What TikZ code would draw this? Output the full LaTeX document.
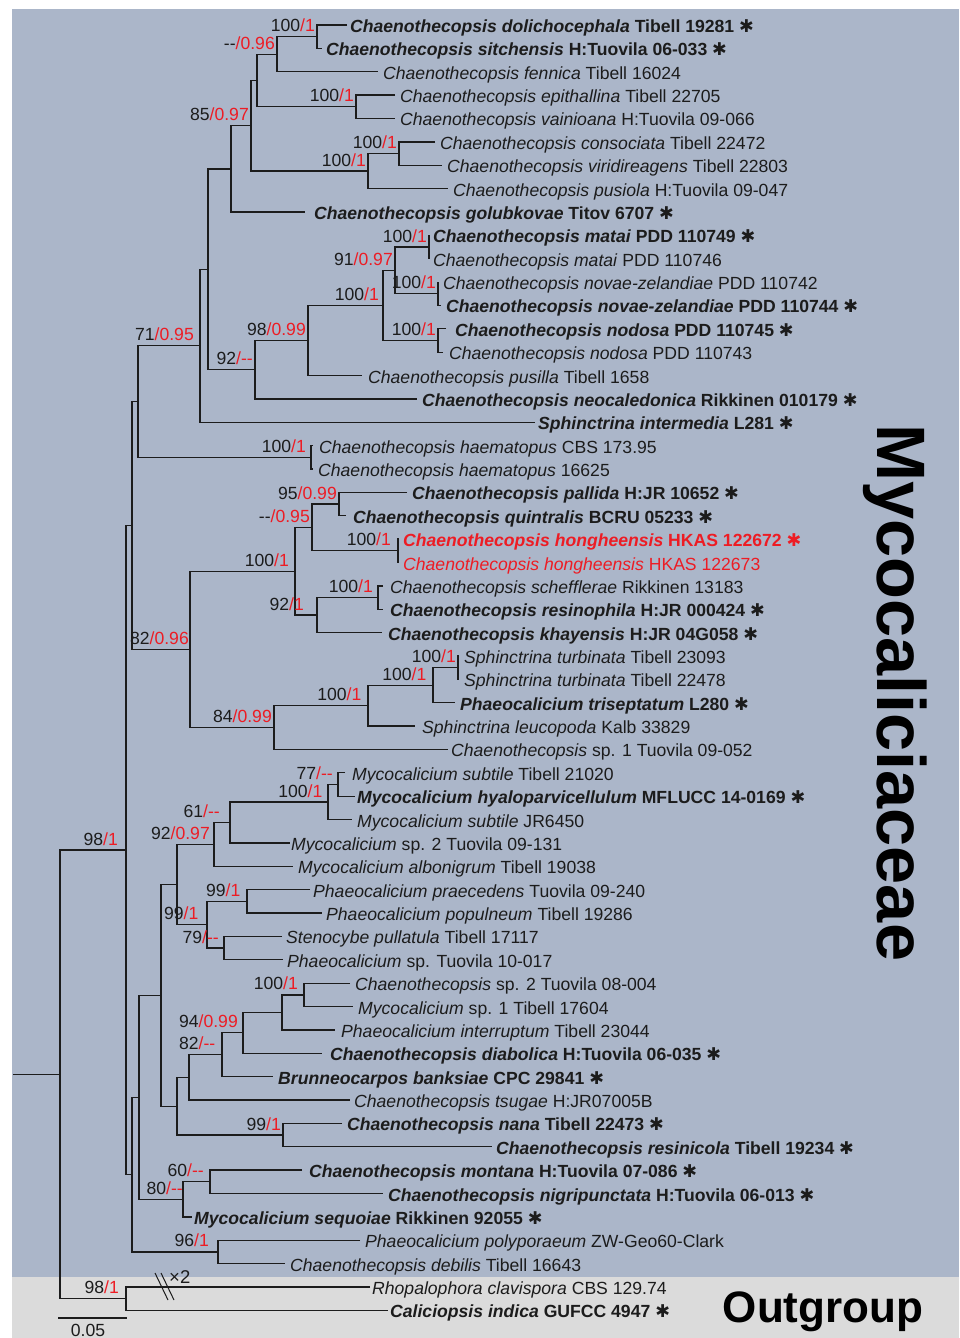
\documentclass[tikz,border=0pt]{standalone}
\usepackage{fontspec}
\setmainfont{Liberation Sans}
\newfontfamily\symfont{DejaVu Sans}
\usetikzlibrary{calc}
\definecolor{bgblue}{RGB}{171,182,201}
\definecolor{bggray}{RGB}{219,219,219}
\definecolor{myred}{RGB}{237,28,36}
\definecolor{ink}{RGB}{28,28,28}
\newcommand\stx{\space{\symfont ✱}}
\newcommand\tx[2]{\textit{#1} #2}
\newcommand\tb[2]{\textbf{\textit{#1} #2}\stx}
\tikzset{
  br/.style={draw=ink, line width=1.3pt},
  leaflab/.style={anchor=base west, inner sep=0pt, yshift=-7.5pt, text=ink, font=\fontsize{17.6}{21}\selectfont},
  suplab/.style={anchor=base east, inner sep=0pt, xshift=-2pt, yshift=5pt, text=ink, font=\fontsize{17.6}{21}\selectfont}
}
\newcommand\leaf[4]{%
  \coordinate (l#1) at (#2, {25+(#1-1)*23.37});
  \node[leaflab] (t#1) at (#3, {25+(#1-1)*23.37}) {#4};
}
\newcommand\inode[4]{%
  \path let \p1=(#3), \p2=(#4) in coordinate (#1) at (#2pt, {0.5*(\y1)+0.5*(\y2)});
  \draw[br] (#3) -| (#1) |- (#4);
}
\newcommand\slab[4][0]{%
  \node[suplab, xshift=-#1pt] (s#2) at (#2) {#3\textcolor{myred}{/#4}};
}
\begin{document}
\begin{tikzpicture}[x=1pt, y=-1pt]
\useasboundingbox (0,0) rectangle (959,1338);
\clip (0,0) rectangle (959,1338);
\fill[bgblue] (12,9) rectangle (959,1277);
\fill[bggray] (12,1277) rectangle (959,1338);

% leaves
\leaf{1}{347}{350}{\tb{Chaenothecopsis dolichocephala}{Tibell 19281}}
\leaf{2}{322}{326}{\tb{Chaenothecopsis sitchensis}{H:Tuovila 06-033}}
\leaf{3}{378}{383}{\tx{Chaenothecopsis fennica}{Tibell 16024}}
\leaf{4}{395}{400}{\tx{Chaenothecopsis epithallina}{Tibell 22705}}
\leaf{5}{395}{400}{\tx{Chaenothecopsis vainioana}{H:Tuovila 09-066}}
\leaf{6}{435}{440}{\tx{Chaenothecopsis consociata}{Tibell 22472}}
\leaf{7}{442}{447}{\tx{Chaenothecopsis viridireagens}{Tibell 22803}}
\leaf{8}{448}{453}{\tx{Chaenothecopsis pusiola}{H:Tuovila 09-047}}
\leaf{9}{305}{314}{\tb{Chaenothecopsis golubkovae}{Titov 6707}}
\leaf{10}{429}{433}{\tb{Chaenothecopsis matai}{PDD 110749}}
\leaf{11}{429}{433}{\tx{Chaenothecopsis matai}{PDD 110746}}
\leaf{12}{438}{443}{\tx{Chaenothecopsis novae-zelandiae}{PDD 110742}}
\leaf{13}{441}{446}{\tb{Chaenothecopsis novae-zelandiae}{PDD 110744}}
\leaf{14}{446}{455}{\tb{Chaenothecopsis nodosa}{PDD 110745}}
\leaf{15}{443}{449}{\tx{Chaenothecopsis nodosa}{PDD 110743}}
\leaf{16}{362}{368}{\tx{Chaenothecopsis pusilla}{Tibell 1658}}
\leaf{17}{417}{422}{\tb{Chaenothecopsis neocaledonica}{Rikkinen 010179}}
\leaf{18}{535}{538}{\tb{Sphinctrina intermedia}{L281}}
\leaf{19}{313}{319}{\tx{Chaenothecopsis haematopus}{CBS 173.95}}
\leaf{20}{313}{318}{\tx{Chaenothecopsis haematopus}{16625}}
\leaf{21}{407}{412}{\tb{Chaenothecopsis pallida}{H:JR 10652}}
\leaf{22}{346}{353}{\tb{Chaenothecopsis quintralis}{BCRU 05233}}
\leaf{23}{399}{403}{{\color{myred}\textbf{\textit{Chaenothecopsis hongheensis} HKAS 122672}\stx}}
\leaf{24}{399}{403}{{\color{myred}\textit{Chaenothecopsis hongheensis} HKAS 122673}}
\leaf{25}{383}{390}{\tx{Chaenothecopsis schefflerae}{Rikkinen 13183}}
\leaf{26}{383}{390}{\tb{Chaenothecopsis resinophila}{H:JR 000424}}
\leaf{27}{382}{388}{\tb{Chaenothecopsis khayensis}{H:JR 04G058}}
\leaf{28}{459}{464}{\tx{Sphinctrina turbinata}{Tibell 23093}}
\leaf{29}{459}{464}{\tx{Sphinctrina turbinata}{Tibell 22478}}
\leaf{30}{455}{460}{\tb{Phaeocalicium triseptatum}{L280}}
\leaf{31}{415}{422}{\tx{Sphinctrina leucopoda}{Kalb 33829}}
\leaf{32}{448}{451}{\tx{Chaenothecopsis}{sp. 1 Tuovila 09-052}}
\leaf{33}{345}{352}{\tx{Mycocalicium subtile}{Tibell 21020}}
\leaf{34}{355}{357}{\tb{Mycocalicium hyaloparvicellulum}{MFLUCC 14-0169}}
\leaf{35}{352}{357}{\tx{Mycocalicium subtile}{JR6450}}
\leaf{36}{290}{291}{\tx{Mycocalicium}{sp. 2 Tuovila 09-131}}
\leaf{37}{293}{298}{\tx{Mycocalicium albonigrum}{Tibell 19038}}
\leaf{38}{310}{313}{\tx{Phaeocalicium praecedens}{Tuovila 09-240}}
\leaf{39}{322}{326}{\tx{Phaeocalicium populneum}{Tibell 19286}}
\leaf{40}{282}{286}{\tx{Stenocybe pullatula}{Tibell 17117}}
\leaf{41}{283}{287}{\tx{Phaeocalicium}{sp. Tuovila 10-017}}
\leaf{42}{350}{355}{\tx{Chaenothecopsis}{sp. 2 Tuovila 08-004}}
\leaf{43}{353}{358}{\tx{Mycocalicium}{sp. 1 Tibell 17604}}
\leaf{44}{335}{341}{\tx{Phaeocalicium interruptum}{Tibell 23044}}
\leaf{45}{322}{330}{\tb{Chaenothecopsis diabolica}{H:Tuovila 06-035}}
\leaf{46}{273}{278}{\tb{Brunneocarpos banksiae}{CPC 29841}}
\leaf{47}{350}{354}{\tx{Chaenothecopsis tsugae}{H:JR07005B}}
\leaf{48}{342}{347}{\tb{Chaenothecopsis nana}{Tibell 22473}}
\leaf{49}{492}{496}{\tb{Chaenothecopsis resinicola}{Tibell 19234}}
\leaf{50}{302}{309}{\tb{Chaenothecopsis montana}{H:Tuovila 07-086}}
\leaf{51}{383}{388}{\tb{Chaenothecopsis nigripunctata}{H:Tuovila 06-013}}
\leaf{52}{192}{194}{\tb{Mycocalicium sequoiae}{Rikkinen 92055}}
\leaf{53}{360}{365}{\tx{Phaeocalicium polyporaeum}{ZW-Geo60-Clark}}
\leaf{54}{285}{290}{\tx{Chaenothecopsis debilis}{Tibell 16643}}
\leaf{55}{370}{372}{\tx{Rhopalophora clavispora}{CBS 129.74}}
\leaf{56}{388}{390}{\tb{Caliciopsis indica}{GUFCC 4947}}

% internal nodes
\inode{A}{317}{l1}{l2}
\inode{B}{277}{A}{l3}
\inode{D}{356}{l4}{l5}
\inode{C}{257}{B}{D}
\inode{G}{399}{l6}{l7}
\inode{F}{368}{G}{l8}
\inode{E}{251}{C}{F}
\inode{H}{231}{E}{l9}
\inode{Q}{429}{l10}{l11}
\inode{R}{438}{l12}{l13}
\inode{O}{395}{Q}{R}
\inode{P}{438}{l14}{l15}
\inode{N}{383}{O}{P}
\inode{M}{308}{N}{l16}
\inode{L}{255}{M}{l17}
\inode{I}{208}{H}{L}
\inode{K}{200}{I}{l18}
\inode{T}{311}{l19}{l20}
\inode{S}{138}{K}{T}
\inode{AS}{339}{l21}{l22}
\inode{AT}{398}{l23}{l24}
\inode{AU}{312}{AS}{AT}
\inode{AV}{378}{l25}{l26}
\inode{AW}{317}{AV}{l27}
\inode{AX}{295}{AU}{AW}
\inode{AY}{458}{l28}{l29}
\inode{AZ}{433}{AY}{l30}
\inode{BA}{368}{AZ}{l31}
\inode{BB}{274}{BA}{l32}
\inode{BC}{190}{AX}{BB}
\inode{U}{132}{S}{BC}
\inode{AJ}{338}{l33}{l34}
\inode{AI}{328}{AJ}{l35}
\inode{AH}{230}{AI}{l36}
\inode{AF}{214}{AH}{l37}
\inode{AK}{247}{l38}{l39}
\inode{AL}{224}{l40}{l41}
\inode{AG}{207}{AK}{AL}
\inode{AD}{177}{AF}{AG}
\inode{AR}{304}{l42}{l43}
\inode{AQ}{282}{AR}{l44}
\inode{AP}{243}{AQ}{l45}
\inode{AO}{222}{AP}{l46}
\inode{AM}{189}{AO}{l47}
\inode{AN}{283}{l48}{l49}
\inode{AE}{177}{AM}{AN}
\inode{AA}{161}{AD}{AE}
\inode{AC}{210}{l50}{l51}
\inode{AB}{183}{AC}{l52}
\inode{Y}{139}{AA}{AB}
\inode{Z}{218}{l53}{l54}
\inode{X}{132}{Y}{Z}
\inode{V}{126}{U}{X}
\inode{OG}{126}{l55}{l56}
\inode{W}{60}{V}{OG}
\coordinate (rt) at (13,0);
\draw[br] (rt |- W) -- (W);

% support labels
\slab{A}{100}{1}
\slab{B}{-{}-}{0.96}
\slab{D}{100}{1}
\slab{G}{100}{1}
\slab{F}{100}{1}
\slab{E}{85}{0.97}
\slab{Q}{100}{1}
\slab{R}{100}{1}
\slab{O}{91}{0.97}
\slab{P}{100}{1}
\slab[2]{N}{100}{1}
\slab{M}{98}{0.99}
\slab{L}{92}{-{}-}
\slab[4]{K}{71}{0.95}
\slab[3]{T}{100}{1}
\slab{AS}{95}{0.99}
\slab[5]{AT}{100}{1}
\slab{AU}{-{}-}{0.95}
\slab[3]{AV}{100}{1}
\slab[11]{AW}{92}{1}
\slab[4]{AX}{100}{1}
\slab{AY}{100}{1}
\slab[4.5]{AZ}{100}{1}
\slab[4.5]{BA}{100}{1}
\slab{BB}{84}{0.99}
\slab[-1]{BC}{82}{0.96}
\slab[3]{AJ}{77}{-{}-}
\slab[3.5]{AI}{100}{1}
\slab[8]{AH}{61}{-{}-}
\slab[2]{AF}{92}{0.97}
\slab[4.5]{AK}{99}{1}
\slab[3]{AL}{79}{-{}-}
\slab[6.5]{AG}{99}{1}
\slab[4]{AR}{100}{1}
\slab[3]{AP}{94}{0.99}
\slab[4.5]{AO}{82}{-{}-}
\slab{AN}{99}{1}
\slab[4]{AC}{60}{-{}-}
\slab[-2]{AB}{80}{-{}-}
\slab[7]{Z}{96}{1}
\slab[6]{V}{98}{1}
\slab[5]{OG}{98}{1}

% break marks on outgroup branch
\draw[ink, line width=1pt] (155,1273) -- (168,1300);
\draw[ink, line width=1pt] (161,1273) -- (174,1300);
\node[anchor=west, inner sep=0pt, text=ink, font=\fontsize{18.5}{22}\selectfont] (x2) at (169,1277) {×2};

% scale bar
\coordinate (sb1) at (58,1318);
\coordinate (sb2) at (127,1318);
\draw[br] (sb1) -- (sb2);
\node[anchor=base, inner sep=0pt, text=ink, font=\fontsize{17.6}{21}\selectfont] (sbl) at (88,1336) {0.05};

% group labels
\node[rotate=-90, anchor=base west, inner sep=0pt, text=black, font=\bfseries\fontsize{68.5}{80}\selectfont] (myc) at (877,424) {Mycocaliciaceae};
\node[anchor=base, inner sep=0pt, text=black, font=\bfseries\fontsize{44}{50}\selectfont] (outg) at (823,1322) {Outgroup};
\end{tikzpicture}
\end{document}
